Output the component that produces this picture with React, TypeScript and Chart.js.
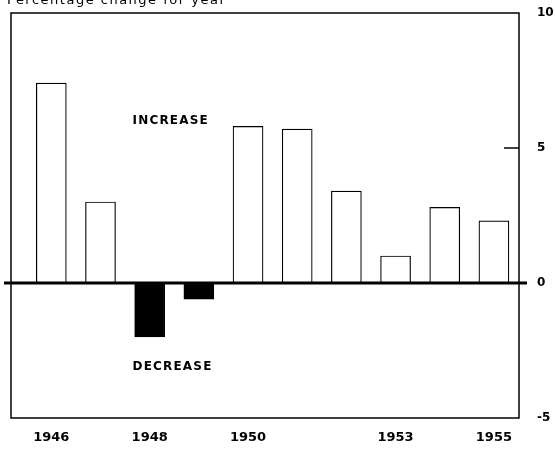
import React, { useEffect, useRef } from "react";
import { Chart, registerables } from "chart.js";

Chart.register(...registerables);

const years = [1946, 1947, 1948, 1949, 1950, 1951, 1952, 1953, 1954, 1955];
const changes = [7.4, 3.0, -2.0, -0.6, 5.8, 5.7, 3.4, 1.0, 2.8, 2.3];
const yearLabels = [1946, 1948, 1950, 1953, 1955];
const valueTicks = [10, 5, 0, -5];
const title = "Percentage change for year";
const upText = "INCREASE";
const downText = "DECREASE";

const framePlugin = {
  id: "frame",
  afterDraw(chart: any) {
    const { ctx, chartArea: a, scales } = chart;
    const y = scales.y;
    const x = scales.x;
    ctx.save();
    ctx.strokeStyle = "#000";
    ctx.lineWidth = 1.5;
    ctx.strokeRect(a.left, a.top, a.right - a.left, a.bottom - a.top);
    // zero line
    const y0 = y.getPixelForValue(0);
    ctx.lineWidth = 3;
    ctx.beginPath();
    ctx.moveTo(a.left - 7, y0);
    ctx.lineTo(a.right + 8, y0);
    ctx.stroke();
    // tick at 5
    const y5 = y.getPixelForValue(5);
    ctx.lineWidth = 1.5;
    ctx.beginPath();
    ctx.moveTo(a.right - 15, y5);
    ctx.lineTo(a.right, y5);
    ctx.stroke();
    // value tick labels on the right
    ctx.fillStyle = "#000";
    ctx.font = "bold 12px 'DejaVu Sans'";
    ctx.textAlign = "left";
    ctx.textBaseline = "middle";
    valueTicks.forEach((v) => {
      ctx.fillText(String(v), a.right + 18, y.getPixelForValue(v));
    });
    // texts
    (ctx as any).letterSpacing = "1.5px";
    ctx.font = "13px 'DejaVu Sans'";
    ctx.textBaseline = "alphabetic";
    ctx.fillText(title, 7, 4);
    (ctx as any).letterSpacing = "1.2px";
    ctx.font = "bold 12px 'DejaVu Sans'";
    ctx.textBaseline = "middle";
    const tx = x.getPixelForValue(1947.65);
    ctx.fillText(upText, tx, y.getPixelForValue(6.0));
    ctx.fillText(downText, tx, y.getPixelForValue(-3.1));
    ctx.restore();
  },
};

export default function App() {
  const ref = useRef<HTMLCanvasElement>(null);
  useEffect(() => {
    if (!ref.current) return;
    const chart = new Chart(ref.current, {
      type: "bar",
      data: {
        datasets: [
          {
            data: years.map((yr, i) => ({ x: yr, y: changes[i] })),
            backgroundColor: changes.map((v) => (v < 0 ? "#000" : "#fff")),
            borderColor: "#000",
            borderWidth: 1.2,
            borderSkipped: false,
            barThickness: 30,
          },
        ],
      },
      options: {
        animation: false,
        responsive: false,
        maintainAspectRatio: false,
        layout: { padding: { left: 11, top: 13, right: 0, bottom: 0 } },
        plugins: { legend: { display: false }, tooltip: { enabled: false } },
        scales: {
          x: {
            type: "linear",
            min: 1945.18,
            max: 1955.51,
            offset: false,
            grid: { display: false, drawTicks: false },
            border: { display: false },
            afterBuildTicks: (axis: any) => {
              axis.ticks = yearLabels.map((v) => ({ value: v }));
            },
            afterFit: (axis: any) => {
              axis.height = 31;
            },
            ticks: {
              color: "#000",
              padding: 12,
              maxRotation: 0,
              autoSkip: false,
              font: { family: "'DejaVu Sans'", weight: "bold", size: 13 },
              callback: (v: any) => String(v),
            },
          },
          y: {
            position: "right",
            min: -5,
            max: 10,
            grid: { display: false, drawTicks: false },
            border: { display: false },
            afterBuildTicks: (axis: any) => {
              axis.ticks = valueTicks.map((v) => ({ value: v }));
            },
            afterFit: (axis: any) => {
              axis.width = 36;
            },
            ticks: { display: false },
          },
        },
      },
      plugins: [framePlugin],
    });
    return () => chart.destroy();
  }, []);
  return (
    <div style={{ position: "fixed", left: 0, top: 0, width: 555, height: 449, background: "#fff" }}>
      <canvas ref={ref} width={555} height={449} />
    </div>
  );
}
